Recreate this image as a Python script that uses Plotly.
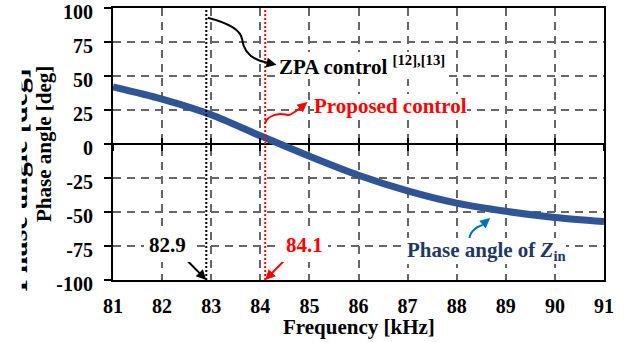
import plotly.graph_objects as go

# Input phase angle of Z_in versus switching frequency
FREQ_KHZ = [81, 82, 83, 84, 85, 86, 87, 88, 89, 90, 91]
PHASE_DEG = [42, 33, 21.5, 6, -9, -23, -34.5, -43.5, -49.5, -54, -57]

# Operating frequencies chosen by each control scheme
ZPA_FREQ = 82.9
PROPOSED_FREQ = 84.1

X_TICKS = list(range(81, 92))
Y_TICKS = list(range(-100, 101, 25))
X_RANGE = [81, 91]
Y_RANGE = [-100, 100]

FONT = "Liberation Serif"
BLUE = "#2F5597"
NAVY = "#1F3864"
RED = "#FF0000"
GRID = "#666666"

fig = go.Figure()

fig.add_trace(go.Scatter(
    x=FREQ_KHZ, y=PHASE_DEG, mode="lines",
    line=dict(color=BLUE, width=7, shape="spline", smoothing=0.8),
    showlegend=False, hoverinfo="skip",
))

# Vertical markers for the two operating points
for f, col in [(ZPA_FREQ, "black"), (PROPOSED_FREQ, RED)]:
    fig.add_trace(go.Scatter(
        x=[f, f], y=Y_RANGE, mode="lines",
        line=dict(color=col, width=2, dash="2px,2px"),
        showlegend=False, hoverinfo="skip",
    ))

# Invisible companions so the zero-line tick axes get drawn
for ax in ["x2", "x3"]:
    fig.add_trace(go.Scatter(
        x=FREQ_KHZ, y=PHASE_DEG, mode="lines", line=dict(width=0),
        xaxis=ax, yaxis="y", showlegend=False, hoverinfo="skip",
    ))

axis_common = dict(
    showline=True, mirror=True, linecolor="black", linewidth=2,
    showgrid=True, gridcolor=GRID, gridwidth=1.5, griddash="8px,6px",
    automargin=False, ticklabeloverflow="allow",
    tickfont=dict(family=FONT, size=20, color="black", weight="bold"),
)

zero_ticks = dict(
    overlaying="x", anchor="free", position=0.5, range=X_RANGE,
    tickvals=X_TICKS, showticklabels=False, showgrid=False,
    showline=False, zeroline=False, ticklen=6, tickwidth=2,
    tickcolor="black", automargin=False,
)

fig.update_layout(
    width=628, height=342,
    margin=dict(l=113, r=24, t=8, b=62),
    paper_bgcolor="white", plot_bgcolor="white",
    font=dict(family=FONT, color="black", weight="bold"),
    xaxis=dict(
        range=X_RANGE, tickvals=X_TICKS, ticks="", zeroline=False,
        ticklabelstandoff=7,
        **axis_common,
    ),
    xaxis2=dict(ticks="outside", **zero_ticks),
    xaxis3=dict(ticks="inside", **zero_ticks),
    yaxis=dict(
        range=Y_RANGE, tickvals=Y_TICKS,
        ticktext=[str(v) for v in Y_TICKS],
        ticks="outside", ticklen=7, tickwidth=2, tickcolor="black",
        zeroline=True, zerolinecolor="black", zerolinewidth=2,
        ticklabelstandoff=7, ticklabelshift=4,
        **axis_common,
    ),
)

# Curved leader lines
fig.add_shape(type="path", xref="x", yref="y",
              path="M 82.93,92.9 C 83.30,89.5 83.60,85 83.63,77 "
                   "C 83.66,68 83.80,62 84.15,59.8",
              line=dict(color="black", width=2))
fig.add_shape(type="path", xref="x", yref="y",
              path="M 84.09,14.9 C 84.12,19 84.25,21.5 84.40,22 "
                   "C 84.50,22.3 84.55,20.5 84.62,21.8 "
                   "C 84.68,23 84.72,24 84.82,26.5",
              line=dict(color=RED, width=2))
fig.add_shape(type="path", xref="x", yref="y",
              path="M 88.26,-71.0 C 88.25,-66 88.35,-61.5 88.53,-59.6",
              line=dict(color="#0070C0", width=2))


def arrow(x, y, ax, ay, color):
    fig.add_annotation(x=x, y=y, ax=ax, ay=ay, xref="x", yref="y",
                       axref="x", ayref="y", text="", showarrow=True,
                       arrowhead=2, arrowsize=1, arrowwidth=2,
                       arrowcolor=color, standoff=0)


arrow(84.33, 58.3, 84.13, 59.9, "black")
arrow(84.96, 30.8, 84.80, 26.0, RED)
arrow(88.68, -54.5, 88.50, -60.0, "#0070C0")
arrow(ZPA_FREQ, Y_RANGE[0], 82.40, -81.6, "black")
arrow(PROPOSED_FREQ, Y_RANGE[0], 84.60, -81.6, RED)


def label(text, x, y, color, anchor="left", pad=0):
    fig.add_annotation(x=x, y=y, xref="x", yref="y", text=text,
                       showarrow=False, xanchor=anchor, yanchor="middle",
                       bgcolor="white", borderpad=pad, borderwidth=0,
                       font=dict(family=FONT, size=21, color=color,
                                 weight="bold"))


label("ZPA control <sup>[12],[13]</sup>", 84.38, 57.5, "black")
label("Proposed control", 85.10, 28.1, RED)
label(f"{ZPA_FREQ}", 82.10, -74.2, "black", anchor="center", pad=5)
label(f"{PROPOSED_FREQ}", 84.90, -74.2, RED, anchor="center", pad=5)
label("Phase angle of <i>Z</i><sub>in</sub>", 86.98, -78.6, NAVY)

# Axis captions
fig.add_annotation(
    x=0.5, y=-0.173, xref="paper", yref="paper",
    text="Frequency [kHz]", showarrow=False,
    xanchor="center", yanchor="middle",
    font=dict(family=FONT, size=21, color="black", weight="bold"),
)
fig.add_annotation(
    x=-0.1405, y=0.5, xref="paper", yref="paper",
    text="Phase angle [deg]", textangle=-90, showarrow=False,
    xanchor="center", yanchor="middle",
    font=dict(family=FONT, size=21, color="black", weight="bold"),
)

# Oversized duplicate caption, partly hidden at the left edge
fig.add_annotation(
    x=-0.174, y=0.368, xref="paper", yref="paper",
    text="Phase angle [deg]", textangle=-90, showarrow=False,
    xanchor="center", yanchor="middle", height=11, valign="bottom",
    font=dict(family=FONT, size=30, color="black", weight="bold"),
)

fig.write_html("out.html")
